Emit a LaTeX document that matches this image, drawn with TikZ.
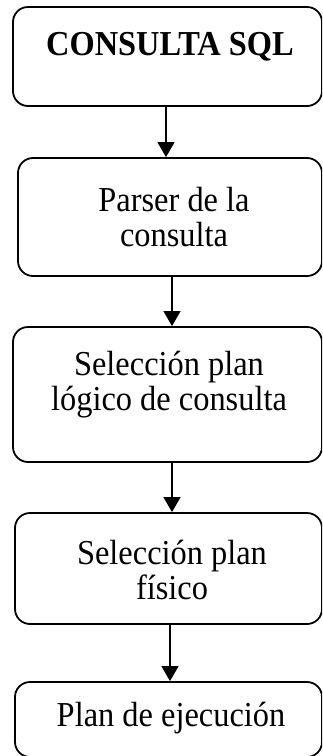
\documentclass[tikz,border=0pt]{standalone}
\usepackage{fontspec}
\setmainfont{Liberation Serif}
\usetikzlibrary{arrows.meta}

\begin{document}
\begin{tikzpicture}[x=1pt,y=-1pt,
    caja/.style={draw, line width=1.8pt, rounded corners=15pt, inner sep=0pt},
    texto/.style={align=center, font=\fontsize{32.4}{32.4}\selectfont, yscale=1.08, transform shape},
    flecha/.style={line width=1.2pt, -{Triangle[width=17pt,length=15pt]}}]
      \useasboundingbox (0,0) rectangle (322,756);
      \clip (0,0) rectangle (322,756);
      \node[name=sql, caja, minimum width=309pt, minimum height=99pt] at (167.5,56.5){};
      \node[name=parser, caja, minimum width=304pt, minimum height=118pt] at (170,217){};
      \node[name=logico, caja, minimum width=309pt, minimum height=135pt] at (167.5,394.5){};
      \node[name=fisico, caja, minimum width=307pt, minimum height=111pt] at (168.5,568.5){};
      \node[name=ejec, caja, minimum width=307pt, minimum height=75pt] at (168.5,719.5){};
      \node[texto] at (170,47){\textbf{CONSULTA SQL}};
      \node[texto] at (174,217){Parser de la\\consulta};
      \node[texto] at (169,385){Selección plan\\lógico de consulta};
      \node[texto] at (172,570){Selección plan\\físico};
      \node[texto] at (171,718){Plan de ejecución};
      \draw[flecha] ([xshift=-1.5pt]sql.south) -- ([xshift=-1.5pt]sql.south |- parser.north);
      \draw[flecha] ([xshift=2pt]parser.south) -- ([xshift=2pt]parser.south |- logico.north);
      \draw[flecha] ([xshift=4.5pt]logico.south) -- ([xshift=4.5pt]logico.south |- fisico.north);
      \draw[flecha] ([xshift=1.5pt]fisico.south) -- ([xshift=1.5pt]fisico.south |- ejec.north);
\end{tikzpicture}
\end{document}
